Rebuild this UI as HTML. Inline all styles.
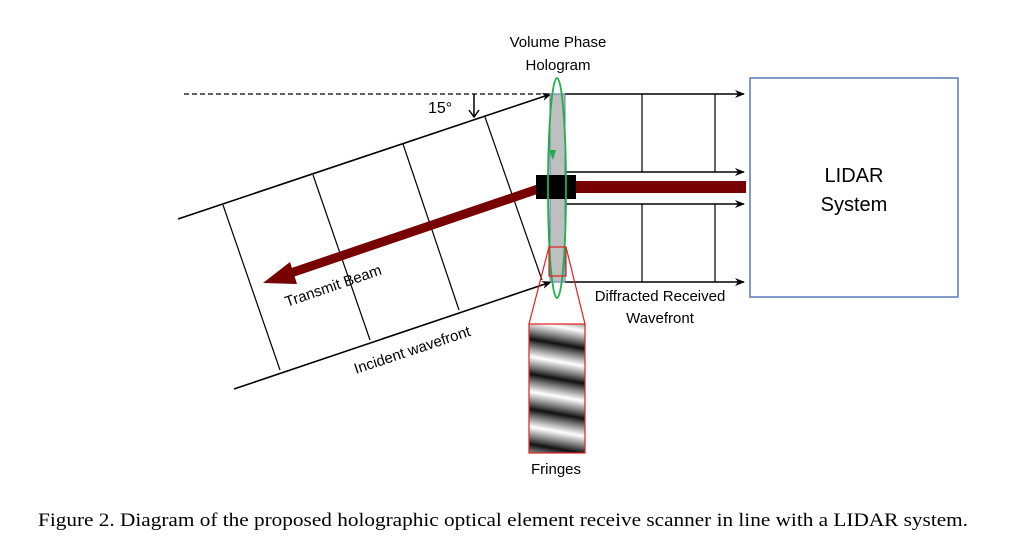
<!DOCTYPE html>
<html><head><style>
body{margin:0;background:#fff;}
svg text{font-family:"Liberation Sans",sans-serif;}
</style></head><body>
<svg width="1024" height="547" viewBox="0 0 1024 547" xmlns="http://www.w3.org/2000/svg">
<defs>
<marker id="ah" markerWidth="10" markerHeight="8" refX="9" refY="4" orient="auto" markerUnits="userSpaceOnUse">
<path d="M0,0 L10,4 L0,8 L3,4 Z" fill="#000"/></marker>
<linearGradient id="fr" gradientUnits="userSpaceOnUse" x1="0" y1="0" x2="-6" y2="34" spreadMethod="repeat">
<stop offset="0" stop-color="#111"/><stop offset="0.2" stop-color="#777"/><stop offset="0.5" stop-color="#fff"/><stop offset="0.8" stop-color="#777"/><stop offset="1" stop-color="#111"/>
</linearGradient>
</defs>
<line x1="184" y1="94" x2="552" y2="94" stroke="#000" stroke-width="1.3" stroke-dasharray="5,3"/>
<text x="428" y="113" font-size="16">15°</text>
<line x1="474" y1="94" x2="474" y2="116" stroke="#000" stroke-width="1.5"/>
<path d="M469,110 L474,117 L479,110" fill="none" stroke="#000" stroke-width="1.5"/>
<line x1="178" y1="219" x2="551" y2="94" stroke="#000" stroke-width="1.6" marker-end="url(#ah)"/>
<line x1="234" y1="389" x2="551" y2="282" stroke="#000" stroke-width="1.6" marker-end="url(#ah)"/>
<g stroke="#000" stroke-width="1.2">
<line x1="223" y1="205" x2="280" y2="370"/>
<line x1="313" y1="175" x2="370" y2="340"/>
<line x1="403" y1="144" x2="459" y2="310"/>
<line x1="485" y1="117" x2="542" y2="280"/>
</g>
<line x1="538" y1="189" x2="285" y2="275" stroke="#700" stroke-width="9"/>
<path d="M263,283 L290,262 L297,284 Z" fill="#700"/>
<text transform="translate(287,307) rotate(-19)" font-size="15">Transmit Beam</text>
<text transform="translate(356,374) rotate(-18.5)" font-size="15">Incident wavefront</text>
<g stroke="#000" stroke-width="1.6">
<line x1="565" y1="94" x2="744" y2="94" marker-end="url(#ah)"/>
<line x1="565" y1="172" x2="744" y2="172" marker-end="url(#ah)"/>
<line x1="565" y1="204" x2="744" y2="204" marker-end="url(#ah)"/>
<line x1="565" y1="282" x2="744" y2="282" marker-end="url(#ah)"/>
</g>
<g stroke="#000" stroke-width="1.2">
<line x1="642" y1="94" x2="642" y2="172"/><line x1="715" y1="94" x2="715" y2="172"/>
<line x1="642" y1="204" x2="642" y2="282"/><line x1="715" y1="204" x2="715" y2="282"/>
</g>
<rect x="576" y="181" width="170" height="12" fill="#700"/>
<rect x="550" y="94" width="15" height="188" fill="#bfbfbf" stroke="#5a7ab8" stroke-width="1"/>
<rect x="536" y="175" width="40" height="24" fill="#000"/>
<ellipse cx="557" cy="188" rx="9" ry="110" fill="none" stroke="#1db04a" stroke-width="1.8"/>
<path d="M549,150 L553,160 L556,150" fill="#1db04a"/>
<rect x="549" y="247" width="17" height="29" fill="none" stroke="#e02020" stroke-width="1.2"/>
<line x1="549" y1="247" x2="529" y2="324" stroke="#e02020" stroke-width="1.2"/>
<line x1="566" y1="247" x2="585" y2="324" stroke="#e02020" stroke-width="1.2"/>
<rect x="529" y="324" width="56" height="129" fill="url(#fr)" stroke="#e02020" stroke-width="1.2"/>
<text x="556" y="474" font-size="15" text-anchor="middle">Fringes</text>
<text x="558" y="47" font-size="15" text-anchor="middle">Volume Phase</text>
<text x="558" y="70" font-size="15" text-anchor="middle">Hologram</text>
<text x="660" y="301" font-size="15" text-anchor="middle">Diffracted Received</text>
<text x="660" y="323" font-size="15" text-anchor="middle">Wavefront</text>
<rect x="750" y="78" width="208" height="219" fill="#fff" stroke="#5a7ab8" stroke-width="1.5"/>
<text x="854" y="182" font-size="20" text-anchor="middle">LIDAR</text>
<text x="854" y="211" font-size="20" text-anchor="middle">System</text>
<text x="38" y="526" font-size="19" textLength="930" lengthAdjust="spacingAndGlyphs" style="font-family:'Liberation Serif',serif">Figure 2. Diagram of the proposed holographic optical element receive scanner in line with a LIDAR system.</text>
</svg>
</body></html>
